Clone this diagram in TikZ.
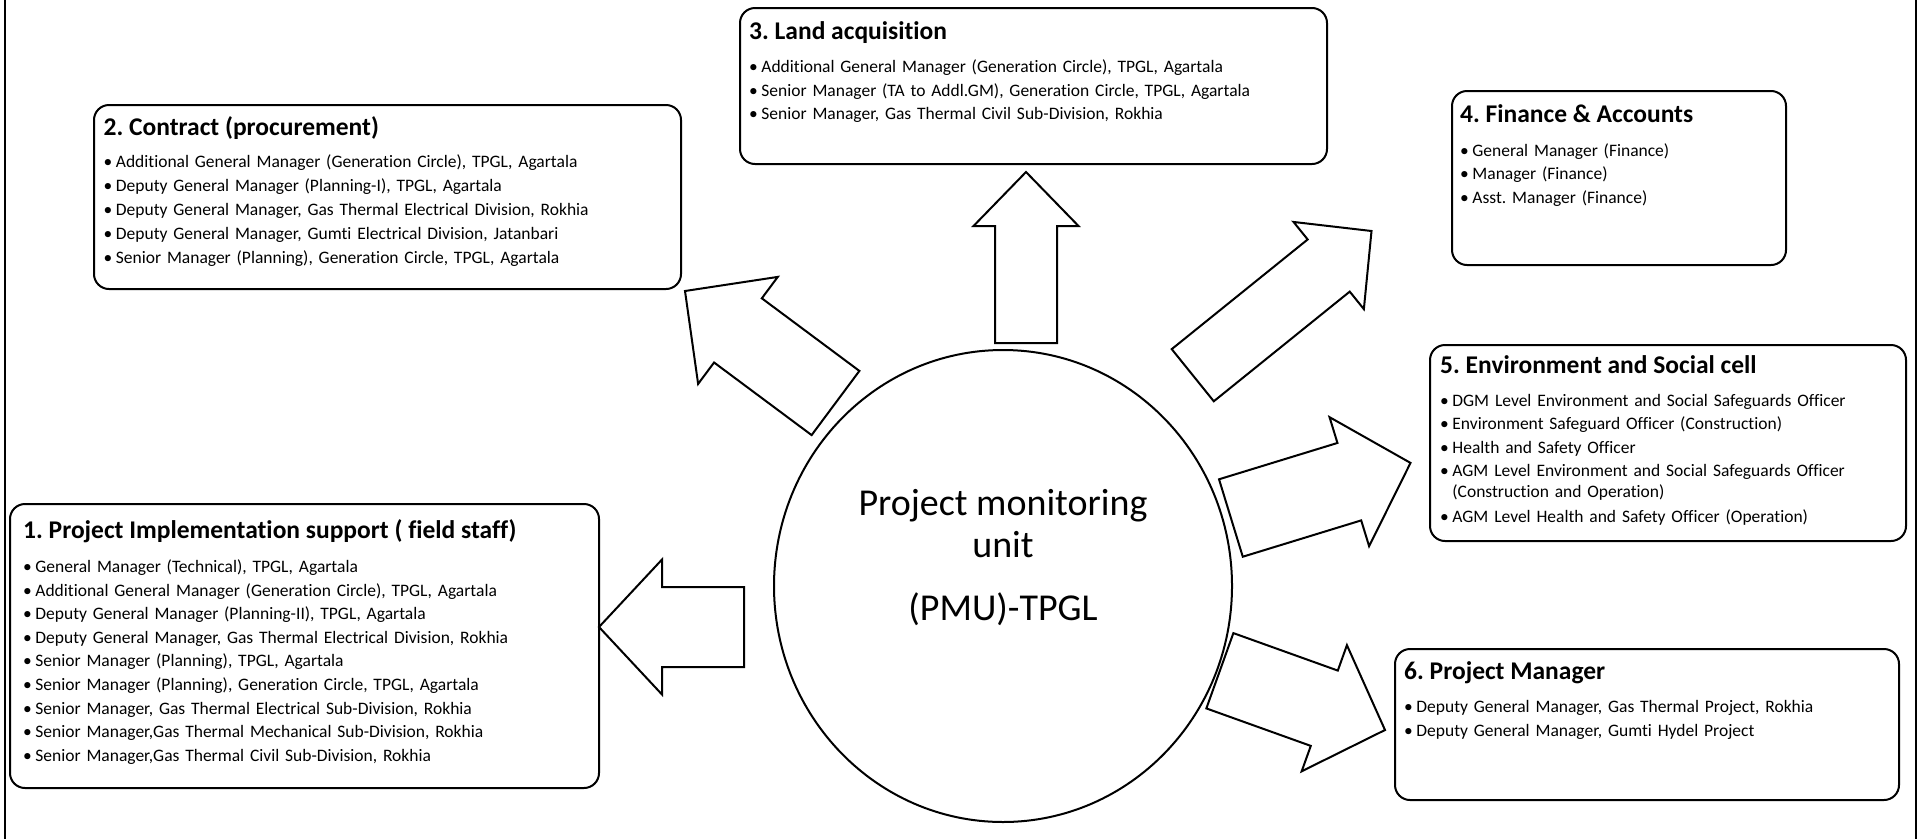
\documentclass[tikz,border=0pt]{standalone}
\usepackage{fontspec}
\setmainfont{Carlito}[Ligatures={NoCommon}]
\usetikzlibrary{shapes.geometric}
\frenchspacing
\newcommand\pbul{\textbullet\hspace{3.5pt}}
\newcommand\blockarrow[7]{%
  \pgfmathsetmacro\baDx{#3-(#1)}%
  \pgfmathsetmacro\baDy{#4-(#2)}%
  \pgfmathsetmacro\baLen{veclen(\baDx,\baDy)}%
  \pgfmathsetmacro\baUx{\baDx/\baLen}%
  \pgfmathsetmacro\baUy{\baDy/\baLen}%
  \pgfmathsetmacro\baBx{#3-#7*\baUx}%
  \pgfmathsetmacro\baBy{#4-#7*\baUy}%
  \draw[barrow] ({#1-#5*\baUy},{#2+#5*\baUx}) -- ({\baBx-#5*\baUy},{\baBy+#5*\baUx})
    -- ({\baBx-#6*\baUy},{\baBy+#6*\baUx}) -- (#3,#4)
    -- ({\baBx+#6*\baUy},{\baBy-#6*\baUx}) -- ({\baBx+#5*\baUy},{\baBy-#5*\baUx})
    -- ({#1+#5*\baUy},{#2-#5*\baUx}) -- cycle;%
}
\begin{document}
\begin{tikzpicture}[x=1pt,y=-1pt,
  box/.style={draw=black, line width=2pt, rounded corners=15pt, inner sep=0pt},
  ttl/.style={anchor=base west, inner sep=0pt, font=\fontsize{25.5}{30}\selectfont\bfseries},
  lst/.style={anchor=base west, inner sep=0pt, align=left, text width=620pt, font=\fontsize{17.5}{23.6}\selectfont},
  barrow/.style={draw=black, line width=2pt, fill=white, line join=miter},
  ctext/.style={anchor=base, inner sep=0pt, font=\fontsize{38}{44}\selectfont}
]
\useasboundingbox (0,0) rectangle (1921,839);
\fill[white] (0,0) rectangle (1921,839);
\draw[line width=2pt] (5,0) -- (5,839);
\draw[line width=2pt] (1916,0) -- (1916,839);

% central unit
\node[draw=black, line width=2pt, ellipse, inner sep=0pt, minimum width=458pt, minimum height=472pt] (pmu) at (1003,586) {};
\node[ctext] (pmu1) at (1003,515) {Project monitoring};
\node[ctext] (pmu2) at (1003,557) {unit};
\node[ctext] (pmu3) at (1003,620) {(PMU)-TPGL};

% boxes
\node[box, minimum width=589pt, minimum height=284pt] (b1) at (304.5,646) {};
\node[box, minimum width=587pt, minimum height=184pt] (b2) at (387.5,197) {};
\node[box, minimum width=587pt, minimum height=156pt] (b3) at (1033.5,86) {};
\node[box, minimum width=334pt, minimum height=174pt] (b4) at (1619,178) {};
\node[box, minimum width=476pt, minimum height=196pt] (b5) at (1668,443) {};
\node[box, minimum width=504pt, minimum height=151pt] (b6) at (1647,724.5) {};

% box 1
\node[ttl] (t1) at (23,538) {1. Project Implementation support ( field staff)};
\node[lst] (l1) at (23,572.5) {\pbul General Manager (Technical), TPGL, Agartala\\
\pbul Additional General Manager (Generation Circle), TPGL, Agartala\\
\pbul Deputy General Manager (Planning-II), TPGL, Agartala\\
\pbul Deputy General Manager, Gas Thermal Electrical Division, Rokhia\\
\pbul Senior Manager (Planning), TPGL, Agartala\\
\pbul Senior Manager (Planning), Generation Circle, TPGL, Agartala\\
\pbul Senior Manager, Gas Thermal Electrical Sub-Division, Rokhia\\
\pbul Senior Manager,Gas Thermal Mechanical Sub-Division, Rokhia\\
\pbul Senior Manager,Gas Thermal Civil Sub-Division, Rokhia};

% box 2
\node[ttl] (t2) at (103.5,135) {2. Contract (procurement)};
\node[lst, font=\fontsize{17.5}{24.1}\selectfont] (l2) at (103.5,167.5) {\pbul Additional General Manager (Generation Circle), TPGL, Agartala\\
\pbul Deputy General Manager (Planning-I), TPGL, Agartala\\
\pbul Deputy General Manager, Gas Thermal Electrical Division, Rokhia\\
\pbul Deputy General Manager, Gumti Electrical Division, Jatanbari\\
\pbul Senior Manager (Planning), Generation Circle, TPGL, Agartala};

% box 3
\node[ttl] (t3) at (749,39) {3. Land acquisition};
\node[lst] (l3) at (749,72.5) {\pbul Additional General Manager (Generation Circle), TPGL, Agartala\\
\pbul Senior Manager (TA to Addl.GM), Generation Circle, TPGL, Agartala\\
\pbul Senior Manager, Gas Thermal Civil Sub-Division, Rokhia};

% box 4
\node[ttl] (t4) at (1460,122) {4. Finance \& Accounts};
\node[lst] (l4) at (1460,156) {\pbul General Manager (Finance)\\
\pbul Manager (Finance)\\
\pbul Asst. Manager (Finance)};

% box 5
\node[ttl] (t5) at (1440,373) {5. Environment and Social cell};
\node[lst] (l5) at (1440,406) {\pbul DGM Level Environment and Social Safeguards Officer\\
\pbul Environment Safeguard Officer (Construction)\\
\pbul Health and Safety Officer\\
\pbul AGM Level Environment and Social Safeguards Officer\\[-2.8pt]
\phantom{\pbul}(Construction and Operation)\\[0.9pt]
\pbul AGM Level Health and Safety Officer (Operation)};

% box 6
\node[ttl] (t6) at (1404,679) {6. Project Manager};
\node[lst] (l6) at (1404,712.5) {\pbul Deputy General Manager, Gas Thermal Project, Rokhia\\
\pbul Deputy General Manager, Gumti Hydel Project};

% block arrows: tail x,y ; tip x,y ; shaft half width ; head half width ; head length
\blockarrow{1026}{343}{1026}{172}{31}{52.5}{54}
\blockarrow{744}{627}{599}{627}{40}{67.5}{63}
\blockarrow{835.5}{403}{685}{291}{40}{66.7}{66}
\blockarrow{1192.75}{375.2}{1371.5}{231}{33.5}{56}{55}
\blockarrow{1230.9}{518}{1410.5}{462.9}{40.5}{67.5}{64}
\blockarrow{1219.85}{670.75}{1385}{730}{40}{67}{64.5}
\end{tikzpicture}
\end{document}
